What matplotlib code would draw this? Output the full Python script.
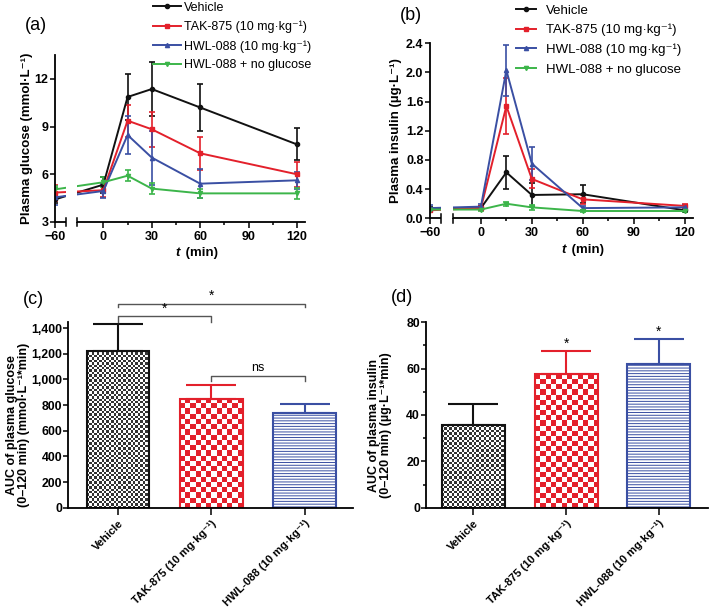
import numpy as np
import matplotlib
matplotlib.use("Agg")
import matplotlib.pyplot as plt
from matplotlib.colors import ListedColormap
from matplotlib.lines import Line2D
from matplotlib.ticker import FixedLocator, FuncFormatter, MultipleLocator

plt.rcParams['font.family'] = ['Liberation Sans', 'DejaVu Sans']
plt.rcParams['font.weight'] = 'bold'
plt.rcParams['axes.labelweight'] = 'bold'
plt.rcParams['hatch.linewidth'] = 0.7

# ---------------- data ----------------
time = [-60, 0, 15, 30, 60, 120]
series_names = ["Vehicle", "TAK-875 (10 mg·kg⁻¹)", "HWL-088 (10 mg·kg⁻¹)", "HWL-088 + no glucose"]

glucose_vehicle = [4.42, 5.35, 10.86, 11.36, 10.2, 7.88]
glucose_vehicle_err = [0.25, 0.5, 1.43, 1.7, 1.45, 1.0]
glucose_tak = [4.85, 5.0, 9.37, 8.83, 7.32, 6.0]
glucose_tak_err = [0.5, 0.45, 1.0, 1.1, 1.05, 0.8]
glucose_hwl = [4.55, 4.95, 8.47, 7.05, 5.41, 5.62]
glucose_hwl_err = [0.5, 0.45, 1.2, 1.7, 0.9, 0.55]
glucose_noglc = [5.05, 5.5, 5.91, 5.1, 4.8, 4.8]
glucose_noglc_err = [0.2, 0.3, 0.35, 0.35, 0.3, 0.35]

insulin_vehicle = [0.13, 0.14, 0.63, 0.32, 0.33, 0.11]
insulin_vehicle_err = [0.03, 0.03, 0.23, 0.17, 0.12, 0.02]
insulin_tak = [0.11, 0.14, 1.54, 0.54, 0.26, 0.17]
insulin_tak_err = [0.03, 0.03, 0.38, 0.13, 0.06, 0.03]
insulin_hwl = [0.14, 0.16, 2.03, 0.75, 0.14, 0.15]
insulin_hwl_err = [0.04, 0.04, 0.35, 0.23, 0.03, 0.03]
insulin_noglc = [0.12, 0.12, 0.20, 0.15, 0.10, 0.10]
insulin_noglc_err = [0.02, 0.02, 0.03, 0.03, 0.02, 0.02]

bar_labels = ["Vehicle", "TAK-875 (10 mg·kg⁻¹)", "HWL-088 (10 mg·kg⁻¹)"]
auc_glucose = [1225, 851, 736]
auc_glucose_err = [206, 107, 76]
auc_insulin = [35.7, 57.7, 61.9]
auc_insulin_err = [8.9, 9.9, 10.9]

# ---------------- style ----------------
BLACK = "#111111"
RED = "#e3202b"
BLUE = "#3a4fa3"
GREEN = "#3cb54a"
colors = [BLACK, RED, BLUE, GREEN]
markers = ['o', 's', '^', 'v']
SPW = 1.3

fig = plt.figure(figsize=(7.09, 6.12), dpi=100)


def fwd(t):
    t = np.asarray(t, dtype=float)
    return np.where(t >= -15, t, -15 + (t + 15) / 3.0)


def inv(p):
    p = np.asarray(p, dtype=float)
    return np.where(p >= -15, p, -15 + (p + 15) * 3.0)


def style_axes(ax):
    for s in ['top', 'right']:
        ax.spines[s].set_visible(False)
    for s in ['left', 'bottom']:
        ax.spines[s].set_linewidth(SPW)
    ax.tick_params(direction='out', length=4, width=1.1, labelsize=9, pad=2.5)
    ax.tick_params(axis='y', length=3.5, pad=1.2)
    ax.tick_params(which='minor', direction='out', length=2.5, width=1.1)


def time_panel(ax, ys, errs, ylim, yticks, ylabel, legend_anchor, legend_fs, handlelen, textpad, lspace):
    ax.set_xscale('function', functions=(fwd, inv))
    for y, e, c, m in zip(ys, errs, colors, markers):
        ax.errorbar(time, y, yerr=e, color=c, marker=m, markersize=3, lw=1.4,
                    elinewidth=1.2, capsize=2.5, capthick=1.2, zorder=2)
    ax.set_xlim(-60, 125)
    ax.set_ylim(*ylim)
    ax.set_yticks(yticks)
    ax.xaxis.set_major_locator(FixedLocator([-60, 0, 30, 60, 90, 120]))
    ax.xaxis.set_minor_locator(FixedLocator([15, 45, 75, 105]))
    ax.xaxis.set_major_formatter(FuncFormatter(lambda v, p: f"{v:.0f}".replace("-", "\u2212")))
    style_axes(ax)
    # broken axis gap
    ax.axvspan(-40, -19, color='white', zorder=3, lw=0)
    ax.spines['bottom'].set_bounds(-19, 125)
    tr = ax.get_xaxis_transform()
    ax.plot([-60, -40], [0, 0], color='black', lw=SPW, transform=tr, clip_on=False, zorder=4,
            solid_capstyle='butt')
    for xb in (-40, -19):
        ax.plot([xb, xb], [-0.025, 0.025], color='black', lw=1.1, transform=tr,
                clip_on=False, zorder=4)
    ax.set_ylabel(ylabel, fontsize=9.5, fontweight='bold')
    handles = [Line2D([], [], color=c, marker=m, markersize=3, lw=1.4) for c, m in zip(colors, markers)]
    ax.legend(handles, series_names, loc='upper left', bbox_to_anchor=legend_anchor,
              bbox_transform=fig.transFigure, frameon=False, borderaxespad=0, borderpad=0,
              prop={'size': legend_fs, 'weight': 'normal'},
              handlelength=handlelen, handletextpad=textpad, labelspacing=lspace)
    return ax


# (a)
axA = fig.add_axes([55 / 709, 1 - 222 / 612, 250 / 709, 167 / 612])
time_panel(axA, [glucose_vehicle, glucose_tak, glucose_hwl, glucose_noglc],
           [glucose_vehicle_err, glucose_tak_err, glucose_hwl_err, glucose_noglc_err],
           (3, 13.5), [3, 6, 9, 12], "Plasma glucose (mmol·L⁻¹)",
           (153 / 709, 0.997), 9, 2.2, 0.3, 0.55)
axA.yaxis.set_label_coords(-0.088, 0.5)
fig.text(180 / 709, 1 - 253 / 612, "t", style='italic', fontweight='bold', fontsize=9.5,
         ha='right', va='center')
fig.text(182 / 709, 1 - 253 / 612, " (min)", fontweight='bold', fontsize=9.5, ha='left', va='center')

# (b)
axB = fig.add_axes([430 / 709, 1 - 218.3 / 612, 263 / 709, 175 / 612])
time_panel(axB, [insulin_vehicle, insulin_tak, insulin_hwl, insulin_noglc],
           [insulin_vehicle_err, insulin_tak_err, insulin_hwl_err, insulin_noglc_err],
           (0, 2.4), [0.0, 0.4, 0.8, 1.2, 1.6, 2.0, 2.4], "Plasma insulin (µg·L⁻¹)",
           (516 / 709, 0.993), 9.5, 1.55, 0.75, 0.55)
axB.yaxis.set_major_formatter(FuncFormatter(lambda v, p: f"{v:.1f}"))
axB.yaxis.set_label_coords(-0.108, 0.5)
fig.text(566 / 709, 1 - 250 / 612, "t", style='italic', fontweight='bold', fontsize=9.5,
         ha='right', va='center')
fig.text(568 / 709, 1 - 250 / 612, " (min)", fontweight='bold', fontsize=9.5, ha='left', va='center')


def checker_fill(ax, bar, color, cell_px):
    x0, w, h = bar.get_x(), bar.get_width(), bar.get_height()
    (px0, py0), (px1, py1) = ax.transData.transform([(x0, 0), (x0 + w, h)])
    nx = max(1, int(round((px1 - px0) / cell_px)))
    ny = max(1, int(round((py1 - py0) / cell_px)))
    grid = np.indices((ny, nx)).sum(axis=0) % 2
    im = ax.imshow(grid, extent=(x0, x0 + w, 0, h), origin='lower',
                   cmap=ListedColormap(['white', color]), interpolation='nearest',
                   aspect='auto', zorder=1)
    im.set_clip_path(bar)


def bar_panel(ax, vals, errs, width, xlim, ylim, ylabel):
    xs = np.arange(len(vals))
    ax.set_xlim(*xlim)
    ax.set_ylim(*ylim)
    edge = [BLACK, RED, BLUE]
    bars = ax.bar(xs, vals, width=width, facecolor='none', edgecolor=edge, linewidth=1.5, zorder=2)
    bars[2].set_hatch('------')
    for i, (x, v, e) in enumerate(zip(xs, vals, errs)):
        ax.errorbar([x], [v], yerr=[[0], [e]], color=edge[i], capsize=18, capthick=1.5,
                    elinewidth=1.5, fmt='none', zorder=2.5)
    checker_fill(ax, bars[0], '#333333', 2.4)
    checker_fill(ax, bars[1], RED, 5.2)
    ax.set_xlim(*xlim)
    ax.set_ylim(*ylim)
    ax.set_xticks(xs)
    ax.set_xticklabels(bar_labels, rotation=45, ha='right', rotation_mode='anchor',
                       fontsize=8, fontweight='bold')
    style_axes(ax)
    ax.tick_params(axis='x', length=5, labelsize=8)
    ax.tick_params(axis='y', labelsize=8.8, pad=0.8)
    ax.set_ylabel(ylabel, fontsize=9, fontweight='bold', linespacing=1.05)
    return xs


# (c)
axC = fig.add_axes([68 / 709, 1 - 507.7 / 612, 285 / 709, 186 / 612])
xsC = bar_panel(axC, auc_glucose, auc_glucose_err, 0.67, (-0.54, 2.52), (0, 1450),
                "AUC of plasma glucose\n(0\u2013120 min) (mmol·L⁻¹*min)")
axC.set_yticks(np.arange(0, 1401, 200))
axC.yaxis.set_major_formatter(FuncFormatter(lambda v, p: f"{v:,.0f}"))
axC.yaxis.set_label_coords(-0.132, 0.445)


def bracket(ax, x1, x2, y, leg, text, ty, fs):
    ax.plot([x1, x1, x2, x2], [y - leg, y, y, y - leg], color='#555555', lw=1.0,
            clip_on=False, zorder=3)
    ax.text((x1 + x2) / 2, ty, text, ha='center', va='bottom', fontsize=fs,
            fontweight='normal', clip_on=False)


bracket(axC, xsC[0], xsC[2], 1590, 28, "*", 1600, 10)
bracket(axC, xsC[0], xsC[1], 1491, 40, "*", 1500, 10)
bracket(axC, xsC[1], xsC[2], 1028, 40, "ns", 1040, 9)

# (d)
axD = fig.add_axes([426 / 709, 1 - 507.7 / 612, 282 / 709, 185.4 / 612])
xsD = bar_panel(axD, auc_insulin, auc_insulin_err, 0.68, (-0.51, 2.53), (0, 80),
                "AUC of plasma insulin\n(0\u2013120 min) (µg·L⁻¹*min)")
axD.set_yticks([0, 20, 40, 60, 80])
axD.yaxis.set_minor_locator(MultipleLocator(10))
axD.yaxis.set_label_coords(-0.12, 0.445)
for x, v, e in zip(xsD[1:], auc_insulin[1:], auc_insulin_err[1:]):
    axD.text(x, v + e + 0.3, "*", ha='center', va='bottom', fontsize=10, fontweight='normal')

# panel labels
fig.text(36 / 709, 1 - 25 / 612, "(a)", fontsize=13, fontweight='normal', ha='center', va='center')
fig.text(411 / 709, 1 - 16 / 612, "(b)", fontsize=13, fontweight='normal', ha='center', va='center')
fig.text(33 / 709, 1 - 300 / 612, "(c)", fontsize=13, fontweight='normal', ha='center', va='center')
fig.text(402 / 709, 1 - 298 / 612, "(d)", fontsize=13, fontweight='normal', ha='center', va='center')

fig.savefig("out.png", dpi=100)
